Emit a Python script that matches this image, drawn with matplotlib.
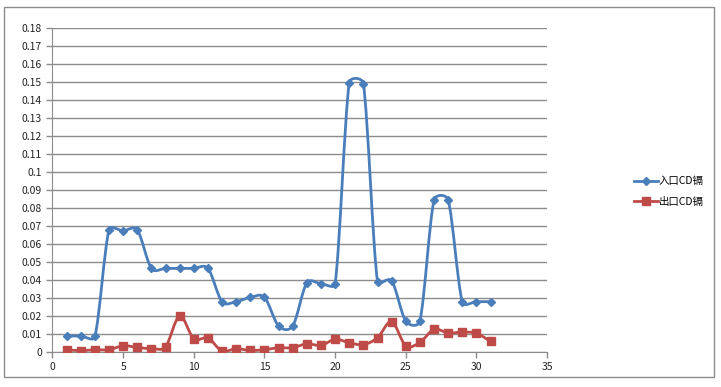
import numpy as np
import matplotlib
matplotlib.use('Agg')
import matplotlib.pyplot as plt
from matplotlib.path import Path
from matplotlib.patches import PathPatch, Rectangle
from matplotlib.lines import Line2D

plt.rcParams['font.family'] = ['Noto Sans CJK SC', 'DejaVu Sans']

x = list(range(1, 32))
inlet = [0.0087, 0.0087, 0.0085, 0.0676, 0.0672, 0.0676, 0.0463, 0.0463, 0.0463, 0.0463,
         0.0463, 0.0278, 0.0278, 0.0302, 0.0302, 0.0143, 0.0143, 0.0383, 0.0378, 0.0378,
         0.1495, 0.1490, 0.0390, 0.0394, 0.0170, 0.0170, 0.0843, 0.0843, 0.0276, 0.0278,
         0.0278]
outlet = [0.0011, 0.0006, 0.0011, 0.0011, 0.0033, 0.0024, 0.0017, 0.0028, 0.0198, 0.0072,
          0.0076, 0.0004, 0.0017, 0.0007, 0.0011, 0.0022, 0.0022, 0.0044, 0.0035, 0.0069,
          0.0050, 0.0039, 0.0078, 0.0167, 0.0033, 0.0052, 0.0124, 0.0104, 0.0109, 0.0102,
          0.0057]
labels = ['入口CD镉', '出口CD镉']
colors = ['#4A7EBB', '#BE4B48']
markers = ['D', 's']
msizes = [4.5, 6]

# smooth line a la Excel: bezier in screen space, tangents clamped to segment length
def smooth_path(ax, xs, ys, k=0.45):
    P = ax.transData.transform(np.column_stack([xs, ys]))
    n = len(P)
    T = np.zeros_like(P)
    for i in range(n):
        a = P[max(i - 1, 0)]
        b = P[min(i + 1, n - 1)]
        T[i] = (b - a) / 6
    verts = [P[0]]
    codes = [Path.MOVETO]
    for i in range(n - 1):
        seg = np.hypot(*(P[i + 1] - P[i]))
        t1 = T[i]
        t2 = T[i + 1]
        l1 = np.hypot(*t1)
        l2 = np.hypot(*t2)
        if l1 > k * seg:
            t1 = t1 * k * seg / l1
        if l2 > k * seg:
            t2 = t2 * k * seg / l2
        verts += [P[i] + t1, P[i + 1] - t2, P[i + 1]]
        codes += [Path.CURVE4] * 3
    verts = ax.transData.inverted().transform(np.array(verts))
    return Path(verts, codes)

fig = plt.figure(figsize=(7.21, 3.87), dpi=100)
fig.patches.append(Rectangle((4 / 721, 1 - 377 / 387), 710 / 721, 370 / 387,
                             transform=fig.transFigure, fill=False,
                             edgecolor='#8c8c8c', linewidth=1))
ax = fig.add_axes([0.0728, 0.0912, 0.686, 0.837])
ax.set_xlim(0, 35)
ax.set_ylim(0, 0.18)

handles = []
for ys, lab, c, m, ms in zip([inlet, outlet], labels, colors, markers, msizes):
    ax.add_patch(PathPatch(smooth_path(ax, x, ys), fill=False, edgecolor=c,
                           linewidth=2.0, zorder=3, capstyle='round', joinstyle='round'))
    ax.plot(x, ys, linestyle='none', marker=m, markersize=ms, color=c, zorder=4)
    handles.append(Line2D([], [], color=c, linewidth=2.0, marker=m, markersize=ms, label=lab))

ax.set_xticks(range(0, 36, 5))
ax.set_yticks(np.arange(0, 0.181, 0.01))
ax.set_yticklabels(['0'] + ['%g' % round(v, 2) for v in np.arange(0.01, 0.181, 0.01)])
ax.grid(axis='y', color='#8c8c8c', linewidth=1)
ax.set_axisbelow(True)
for s in ['top', 'right']:
    ax.spines[s].set_visible(False)
for s in ['left', 'bottom']:
    ax.spines[s].set_color('#8c8c8c')
ax.tick_params(labelsize=7.5, colors='#8c8c8c', labelcolor='#222222', length=4, width=1)

fig.legend(handles=handles, loc='center left', bbox_to_anchor=(0.866, 0.505),
           frameon=False, fontsize=7.5, handlelength=2.3, handletextpad=0.1,
           labelspacing=1.0)

fig.savefig('out.png', dpi=100)
